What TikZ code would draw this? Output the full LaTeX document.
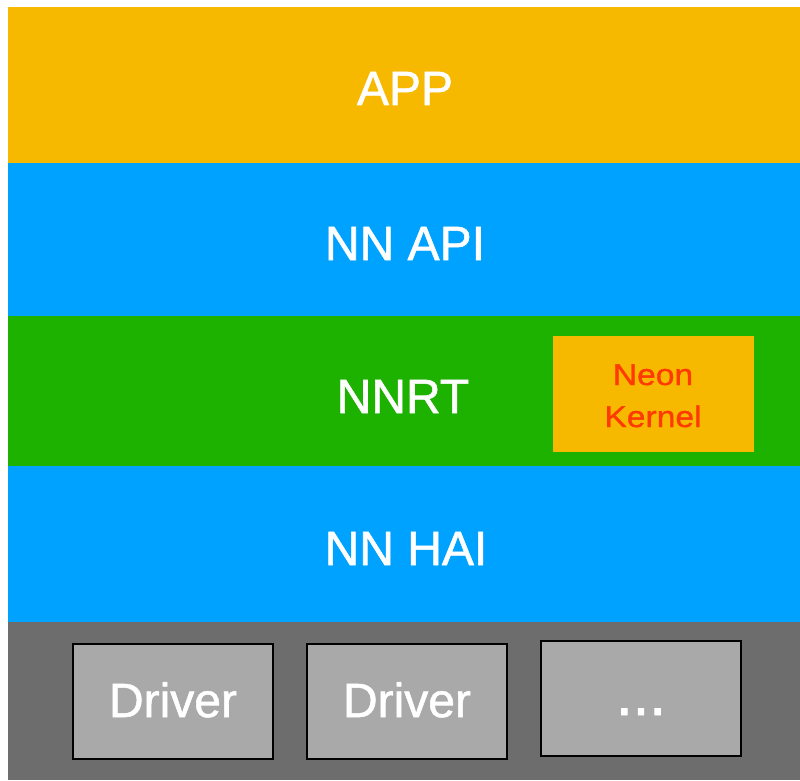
\documentclass[tikz,border=0pt]{standalone}
\usepackage{fontspec}
\setmainfont{Liberation Sans}
\newfontfamily\labelfont[FakeBold=1.2]{Liberation Sans}
\newfontfamily\widefont[FakeStretch=1.12,FakeBold=1.0]{Liberation Sans}
\definecolor{appY}{HTML}{F6B900}
\definecolor{apiB}{HTML}{00A2FF}
\definecolor{rtG}{HTML}{1DB100}
\definecolor{drvBand}{HTML}{6D6D6D}
\definecolor{drvBox}{HTML}{A9A9A9}
\definecolor{neonRed}{HTML}{FF3A00}
\tikzset{
  band/.style={draw=none, inner sep=0pt, minimum width=792pt},
  lbl/.style={text=white, anchor=base, inner sep=0pt, font=\labelfont\fontsize{48}{56}\selectfont},
  drvbox/.style={draw=black, line width=2pt, fill=drvBox, inner sep=0pt, minimum width=200pt, minimum height=115pt},
  neonbox/.style={fill=appY, draw=none, inner sep=0pt, minimum width=201pt, minimum height=116pt},
  neonlbl/.style={text=neonRed, anchor=base, inner sep=0pt, font=\widefont\fontsize{30}{36}\selectfont},
}
\begin{document}
\begin{tikzpicture}[x=1pt,y=1pt]
\useasboundingbox (0,0) rectangle (800,-781);
\fill[white] (0,0) rectangle (800,-781);
% bands
\node[band, fill=appY, minimum height=156pt] (appband) at (404,-85) {};
\node[band, fill=apiB, minimum height=153pt] (apiband) at (404,-239.5) {};
\node[band, fill=rtG, minimum height=151pt] (rtband) at (404,-391) {};
\node[band, fill=apiB, minimum height=156pt] (haiband) at (404,-544) {};
\node[band, fill=drvBand, minimum height=158pt] (drvband) at (404,-701) {};
% labels
\node[lbl] (app) at (405,-105) {APP};
\node[lbl] (api) at (405,-260) {NN API};
\node[lbl] (nnrt) at (403,-413) {NNRT};
\node[lbl] (hai) at (406,-565) {NN HAI};
% neon kernel
\node[neonbox] (neon) at (653.5,-394) {};
\node[neonlbl] (neon1) at (653,-385) {Neon};
\node[neonlbl] (neon2) at (653,-427) {Kernel};
% drivers
\node[drvbox] (d1) at (172.5,-701) {};
\node[drvbox] (d2) at (406.5,-701.5) {};
\node[drvbox] (d3) at (641,-698) {};
\node[lbl] (d1t) at (173,-717) {Driver};
\node[lbl] (d2t) at (407,-717) {Driver};
\node[lbl, font=\labelfont\fontsize{60}{66}\selectfont] (d3t) at (641,-715) {...};
\end{tikzpicture}
\end{document}
